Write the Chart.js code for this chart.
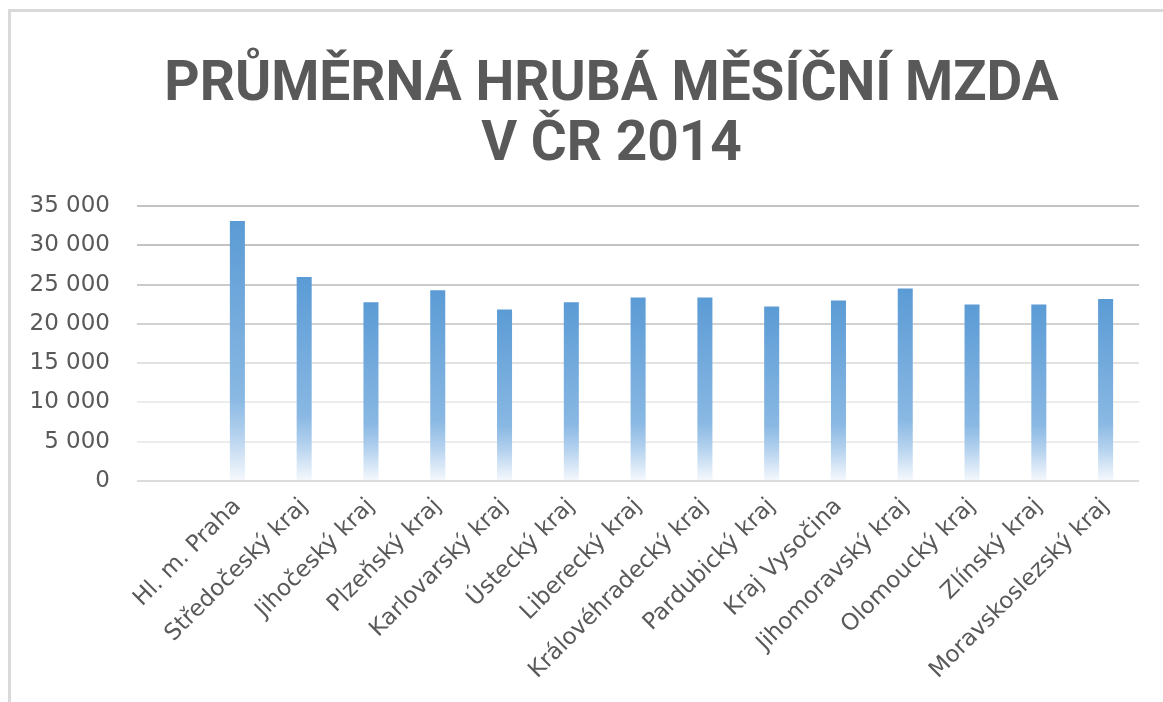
<!DOCTYPE html>
<html>
<head>
<meta charset="utf-8">
<script src="https://cdn.jsdelivr.net/npm/chart.js@4/dist/chart.umd.min.js"></script>
<style>
  html, body { margin: 0; padding: 0; background: #fff; }
  #wrap { position: relative; width: 1163px; height: 702px; }
</style>
</head>
<body>
<div id="wrap"><canvas id="chart" width="1163" height="702"></canvas></div>
<script>
// Average gross monthly wage by region, CZ 2014
const regions = [
  'Hl. m. Praha', 'Středočeský kraj', 'Jihočeský kraj', 'Plzeňský kraj',
  'Karlovarský kraj', 'Ústecký kraj', 'Liberecký kraj', 'Královéhradecký kraj',
  'Pardubický kraj', 'Kraj Vysočina', 'Jihomoravský kraj', 'Olomoucký kraj',
  'Zlínský kraj', 'Moravskoslezský kraj'
];
const wages = [
  33080, 25950, 22760, 24290, 21830, 22760, 23360,
  23360, 22220, 22980, 24500, 22470, 22470, 23150
];
const yTicks = [0, 5000, 10000, 15000, 20000, 25000, 30000, 35000];
const titleLines = ['PRŮMĚRNÁ HRUBÁ MĚSÍČNÍ MZDA', 'V ČR 2014'];

const textColor = '#595959';
const tickFont = { family: 'DejaVu Sans', size: 23 };

// gridlines get lighter toward the bottom, like the original
function gridColor(value) {
  if (value >= 30000) return '#c3c3c3';
  if (value >= 25000) return '#cacaca';
  if (value >= 20000) return '#d2d2d2';
  if (value >= 15000) return '#e2e2e2';
  if (value > 0) return '#ececec';
  return '#dcdcdc';
}

function formatNum(v) {
  return String(v).replace(/\B(?=(\d{3})+(?!\d))/g, '\u00a0');
}

// per-bar vertical gradient, solid at the top fading to white at zero
function barFill(ctx) {
  const chart = ctx.chart;
  if (!chart.chartArea || ctx.type !== 'data') return '#5b9bd5';
  const y = chart.scales.y;
  const top = y.getPixelForValue(ctx.raw);
  const bottom = y.getPixelForValue(0);
  const g = chart.ctx.createLinearGradient(0, top, 0, bottom);
  g.addColorStop(0, '#5b9bd5');
  g.addColorStop(0.68, '#89b8e3');
  g.addColorStop(0.82, '#b3d1ee');
  g.addColorStop(1, '#f6f9fd');
  return g;
}

// white background, light frame and the two-line title
const framePlugin = {
  id: 'frame',
  beforeDraw(chart) {
    const c = chart.ctx;
    c.save();
    c.fillStyle = '#fff';
    c.fillRect(0, 0, chart.width, chart.height);
    c.strokeStyle = '#d9d9d9';
    c.lineWidth = 3;
    c.strokeRect(9.5, 10.5, chart.width + 20, chart.height + 20);
    c.restore();
  },
  afterDraw(chart) {
    const c = chart.ctx;
    const cx = chart.width / 2 + 30;
    c.save();
    c.fillStyle = textColor;
    c.font = 'bold 55px Roboto';
    c.textAlign = 'center';
    c.textBaseline = 'alphabetic';
    c.fillText(titleLines[0], cx, 100);
    c.fillText(titleLines[1], cx, 160);
    c.restore();
  }
};

new Chart(document.getElementById('chart'), {
  type: 'bar',
  data: {
    labels: regions,
    datasets: [{
      label: 'Průměrná hrubá mzda',
      data: wages,
      backgroundColor: barFill,
      borderWidth: 0,
      categoryPercentage: 1,
      barPercentage: 0.225
    }]
  },
  options: {
    responsive: false,
    animation: false,
    layout: { padding: { left: 0, right: 24, top: 206, bottom: 0 } },
    plugins: {
      legend: { display: false },
      tooltip: { enabled: false },
      title: { display: false }
    },
    scales: {
      x: {
        grid: { display: false },
        border: { display: false },
        ticks: {
          color: textColor,
          font: tickFont,
          maxRotation: 45,
          minRotation: 45,
          autoSkip: false,
          padding: 4
        },
        afterFit(scale) { scale.height = 221; }
      },
      y: {
        min: 0,
        max: 35000,
        afterBuildTicks(scale) {
          scale.ticks = yTicks.map(v => ({ value: v }));
        },
        border: { display: false },
        grid: {
          color: ctx => gridColor(ctx.tick ? ctx.tick.value : 0),
          lineWidth: 2,
          drawTicks: true,
          tickLength: 67
        },
        ticks: {
          color: textColor,
          font: tickFont,
          padding: 27,
          callback: v => formatNum(v)
        },
        afterFit(scale) { scale.width = 204; }
      }
    }
  },
  plugins: [framePlugin]
});
</script>
</body>
</html>
